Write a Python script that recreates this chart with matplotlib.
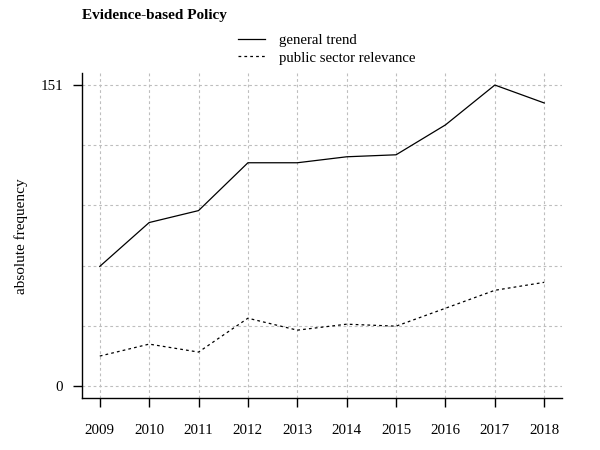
import matplotlib
matplotlib.use("Agg")
import matplotlib.pyplot as plt

years = [2009, 2010, 2011, 2012, 2013, 2014, 2015, 2016, 2017, 2018]
general_trend = [60, 82, 88, 112, 112, 115, 116, 131, 151, 142]
public_sector = [15, 21, 17, 34, 28, 31, 30, 39, 48, 52]
y_ticks = [0, 151]
title = "Evidence-based Policy"
ylabel = "absolute frequency"
legend_labels = ["general trend", "public sector relevance"]

plt.rcParams['font.family'] = ['Liberation Serif', 'DejaVu Serif']

fig = plt.figure(figsize=(6, 4.5), dpi=100)
ax = fig.add_axes([82/600, (450-398)/450, (562-82)/600, (398-73)/450])

ymax = max(y_ticks)
span_x = years[-1] - years[0]
ax.set_xlim(years[0] - 0.04*span_x, years[-1] + 0.04*span_x)
ax.set_ylim(-0.04*ymax, ymax*1.04)

# grid
for i in range(6):
    ax.axhline(ymax*i/5, color='#bebebe', lw=0.8, ls=(0, (2.5, 2.5)), zorder=0)
for yr in years:
    ax.axvline(yr, color='#bebebe', lw=0.8, ls=(0, (2.5, 2.5)), zorder=0)

l1, = ax.plot(years, general_trend, color='black', lw=0.9)
l2, = ax.plot(years, public_sector, color='black', lw=0.9, ls=(0, (2.2, 2.5)))

ax.spines['top'].set_visible(False)
ax.spines['right'].set_visible(False)
ax.spines['left'].set_linewidth(1.0)
ax.spines['bottom'].set_linewidth(1.0)

ax.set_xticks(years)
ax.set_xticklabels([str(y) for y in years], fontsize=10.8)
ax.set_yticks(y_ticks)
ax.set_yticklabels([str(v) for v in y_ticks], fontsize=10.8)
ax.tick_params(axis='x', direction='out', length=6.5, width=1.0, pad=12)
ax.tick_params(axis='y', direction='out', length=6.5, width=1.0, pad=7)

fig.text(21/600, 1-236/450, ylabel, fontsize=11, rotation=90, va='center', ha='center')

fig.text(82/600, 1-15/450, title, fontsize=11, fontweight='bold', va='center', ha='left')

fig.legend([l1, l2], legend_labels, loc='center left',
           bbox_to_anchor=(231/600, 1-49/450), frameon=False, fontsize=10.6,
           handlelength=1.8, handletextpad=0.95, labelspacing=0.3, borderpad=0)

fig.savefig("out.png", dpi=100)
